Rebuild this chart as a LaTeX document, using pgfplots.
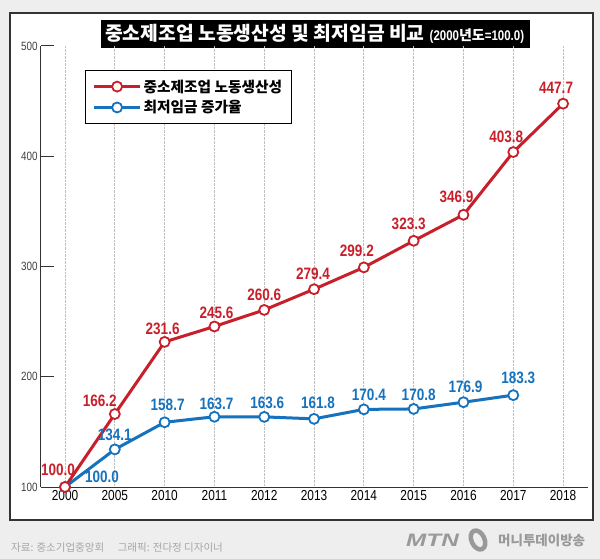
\documentclass[border=0pt]{standalone}
\usepackage{pgfplots}
\pgfplotsset{compat=1.18}
\usepackage{pgfplotstable}
\usepackage{fontspec}
\setmainfont{Liberation Sans}
\newfontfamily\cond{Liberation Sans}[FakeStretch=0.82]
\newfontfamily\kr{Noto Sans CJK KR}
\definecolor{cred}{HTML}{C8202B}
\definecolor{cblue}{HTML}{1572BE}
\definecolor{bgc}{HTML}{EEEEEE}
\definecolor{framec}{HTML}{333333}

\pgfplotstableread{
x y dx dy
0 100.0 -7 17
1 166.2 -15 13
2 231.6 -2 13
3 245.6 2 14
4 260.6 0 15
5 279.4 -1 15
6 299.2 -7 17
7 323.3 -5 17
8 346.9 -7 18
9 403.8 -7 15
10 447.7 -7 16
}\redtab
\pgfplotstableread{
x y dx dy
0 100.0 37 10
1 134.1 0 15
2 158.7 3 17
3 163.7 2 13
4 163.6 3 14
5 161.8 4 16
6 170.4 5 15
7 170.8 5 14
8 176.9 2 15
9 183.3 5 17
}\bluetab

\begin{document}
\begin{tikzpicture}
\path[use as bounding box] (0,0) rectangle (600bp,559bp);
\fill[bgc] (0,0) rectangle (600bp,559bp);
\filldraw[fill=white, draw=framec, line width=1.5bp] (10bp,39bp) rectangle (593bp,546bp);
% title
\fill[black] (101bp,511bp) rectangle (530bp,539bp);
\node[anchor=west, inner sep=0pt, text=white] at (105bp,525bp)
  {{\kr\bfseries\fontsize{19.3bp}{21bp}\selectfont 중소제조업 노동생산성 및 최저임금 비교}\hspace{5bp}{\cond\bfseries\fontsize{14bp}{15bp}\selectfont (2000{\kr 년도}=100.0)}};
\begin{axis}[
  at={(41bp,72bp)}, anchor=south west, scale only axis,
  width=547bp, height=441bp,
  xmin=-0.482, xmax=10.5, ymin=100, ymax=500,
  clip=false,
  axis x line*=bottom, axis y line*=left,
  axis line style={-, draw=framec, line width=1bp},
  xtick={0,...,10},
  xticklabels={2000,2005,2010,2011,2012,2013,2014,2015,2016,2017,2018},
  ytick={100,200,300,400,500},
  tick align=inside,
  major tick length=13bp,
  ytick style={draw=framec, line width=1bp},
  xtick style={draw=none},
  xmajorgrids,
  x grid style={densely dotted, black!25, line width=0.8bp},
  /pgf/number format/assume math mode=true,
  yticklabel style={font=\cond\fontsize{12bp}{12bp}\selectfont, text=black!75},
  xticklabel style={font=\cond\fontsize{14.5bp}{15bp}\selectfont, text=black},
  legend style={at={(0.0804,0.9456)}, anchor=north west, draw=black, line width=1.3bp,
    fill=white, inner xsep=7bp, inner ysep=7bp, row sep=3bp,
    font=\kr\bfseries\fontsize{14.7bp}{16bp}\selectfont},
  legend cell align=left,
  reverse legend,
  legend image code/.code={
    \draw[#1, line width=3bp] (0bp,0bp) -- (46bp,0bp);
    \draw[#1, line width=1.8bp, fill=white] (23bp,0bp) circle (5bp);},
  nodes near coords={\pgfmathprintnumber[fixed,zerofill,precision=1]{\pgfplotspointmeta}},
  point meta=y,
  visualization depends on={\thisrow{dx} \as \dx},
  visualization depends on={\thisrow{dy} \as \dy},
  every node near coord/.append style={anchor=center, inner sep=0pt,
    xshift=\dx bp, yshift=\dy bp,
    font=\cond\bfseries\fontsize{16.5bp}{17bp}\selectfont},
]
\addplot[cblue, line width=3bp, mark=*, mark size=5bp,
  mark options={fill=white, line width=1.8bp, solid},
  every node near coord/.append style={text=cblue}] table[x=x,y=y] {\bluetab};
\addlegendentry{최저임금 증가율}
\addplot[cred, line width=3bp, mark=*, mark size=5bp,
  mark options={fill=white, line width=1.8bp, solid},
  every node near coord/.append style={text=cred}] table[x=x,y=y] {\redtab};
\addlegendentry{중소제조업 노동생산성}
\end{axis}
% footer
\node[anchor=west, inner sep=0pt, text=black!35] at (11bp,11bp)
  {\kr\fontsize{10.5bp}{12bp}\selectfont 자료: 중소기업중앙회\hspace{1.3em}그래픽: 전다정 디자이너};
\node[anchor=west, inner sep=0pt, text=black!40] at (406bp,19bp)
  {\scalebox{1.35}[1]{\bfseries\itshape\fontsize{18bp}{18bp}\selectfont MTN}};
\draw[black!40, line width=4.5bp, rotate around={25:(478bp,19bp)}] (478bp,19bp) ellipse (6.5bp and 10bp);
\node[anchor=west, inner sep=0pt, text=black!40] at (498bp,19bp)
  {\kr\bfseries\fontsize{13.5bp}{15bp}\selectfont 머니투데이방송};
\end{tikzpicture}
\end{document}
